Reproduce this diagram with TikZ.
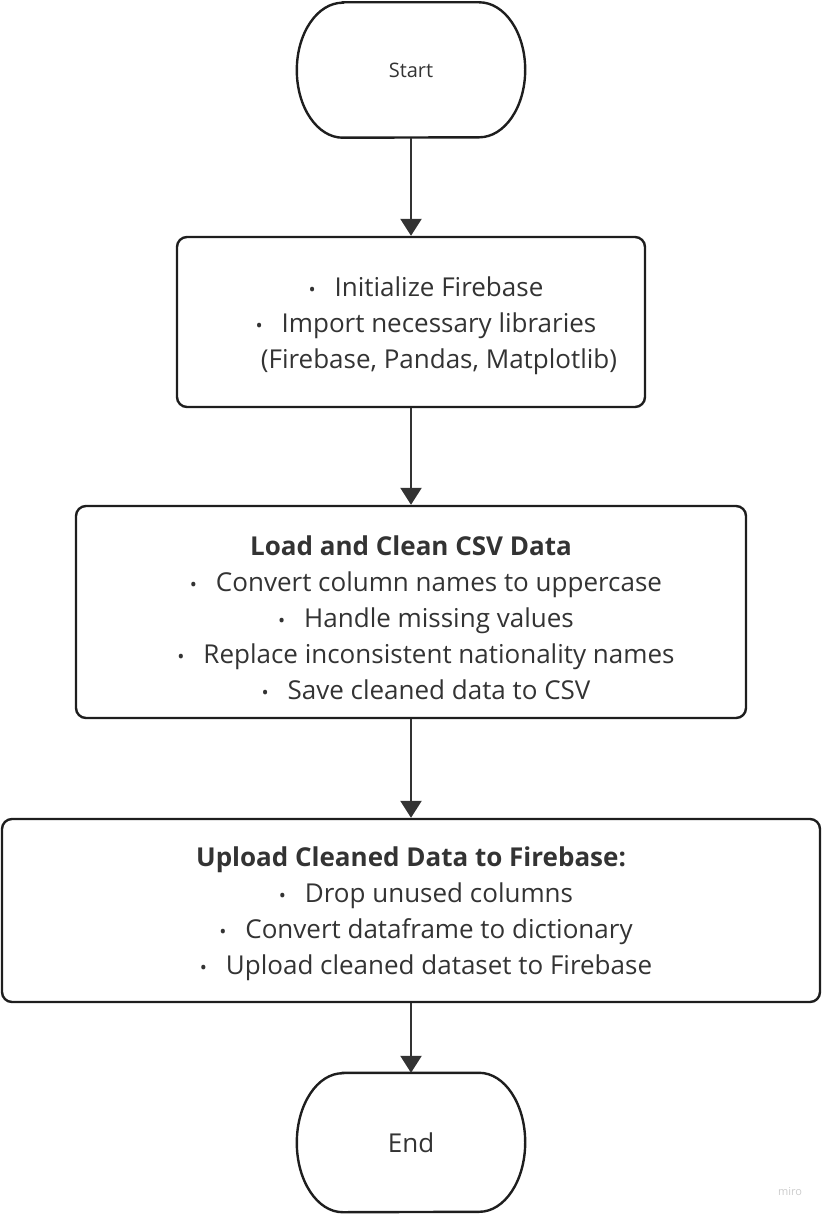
\documentclass[tikz,border=0pt]{standalone}
\usepackage{fontspec}
\setmainfont{Open Sans}
\usetikzlibrary{arrows.meta,positioning}

\definecolor{linie}{HTML}{1E1E1E}
\definecolor{schrift}{HTML}{333333}

% Aufzaehlungspunkt mit Einzug
\newcommand{\punkt}{\hspace*{30pt}\makebox[26pt][l]{\fontsize{19}{19}\selectfont\textbullet}}

\tikzset{
  kasten/.style={draw=linie, line width=2.4pt, rounded corners=10pt,
    inner sep=0pt},
  kastentext/.style={align=center, text=schrift, inner sep=0pt,
    font=\fontsize{26}{36}\selectfont},
  ende/.style={draw=none, inner sep=0pt, text=schrift,
    minimum width=228pt},
  pfeil/.style={draw=schrift, line width=2.4pt,
    -{Triangle[length=17pt,width=21pt]}},
}

% Stadionform mit elliptischen Enden
\newcommand{\stadion}[2]{%
  \draw[linie, line width=2.4pt]
    ([xshift=46pt]#1.north west) -- ([xshift=-46pt]#1.north east)
    arc[start angle=90, end angle=-90, x radius=46pt, y radius=#2]
    -- ([xshift=46pt]#1.south west)
    arc[start angle=270, end angle=90, x radius=46pt, y radius=#2]
    -- cycle;}

\begin{document}
\begin{tikzpicture}[x=1pt,y=-1pt]
\useasboundingbox (0,0) rectangle (822,1215);
%Start
  \node[ende, minimum height=135pt,
    font=\fontsize{20}{24}\selectfont]
    (start) at (411,70) {Start};
  \stadion{start}{67.5pt}
%Kaesten
  \node[kasten, minimum width=468pt, minimum height=170pt]
    (init) at (411,322) {};
  \node[kastentext]
    (init-text) at ([yshift=-4pt]init.center)
    {\punkt Initialize Firebase\\
     \punkt Import necessary libraries\\
     \hspace*{56pt}(Firebase, Pandas, Matplotlib)};
  \node[kasten, minimum width=670pt, minimum height=212pt]
    (clean) at (411,612) {};
  \node[kastentext]
    (clean-text) at ([yshift=-6pt]clean.center)
    {\textbf{Load and Clean CSV Data}\\
     \punkt Convert column names to uppercase\\
     \punkt Handle missing values\\
     \punkt Replace inconsistent nationality names\\
     \punkt Save cleaned data to CSV};
  \node[kasten, minimum width=818pt, minimum height=183pt]
    (upload) at (411,910.5) {};
  \node[kastentext]
    (upload-text) at ([yshift=-3pt]upload.center)
    {\textbf{Upload Cleaned Data to Firebase:}\\
     \punkt Drop unused columns\\
     \punkt Convert dataframe to dictionary\\
     \punkt Upload cleaned dataset to Firebase};
%Ende
  \node[ende, minimum height=139pt,
    font=\fontsize{26}{30}\selectfont]
    (end) at (411,1142.5) {End};
  \stadion{end}{69.5pt}
%Pfeile
  \draw[pfeil] (start) -- (init);
  \draw[pfeil] (init) -- (clean);
  \draw[pfeil] (clean) -- (upload);
  \draw[pfeil] (upload) -- (end);
%Beschriftung
  \node[text=black!20, font=\fontsize{11}{13}\selectfont]
    (miro) at (790,1192) {miro};
\end{tikzpicture}
\end{document}
